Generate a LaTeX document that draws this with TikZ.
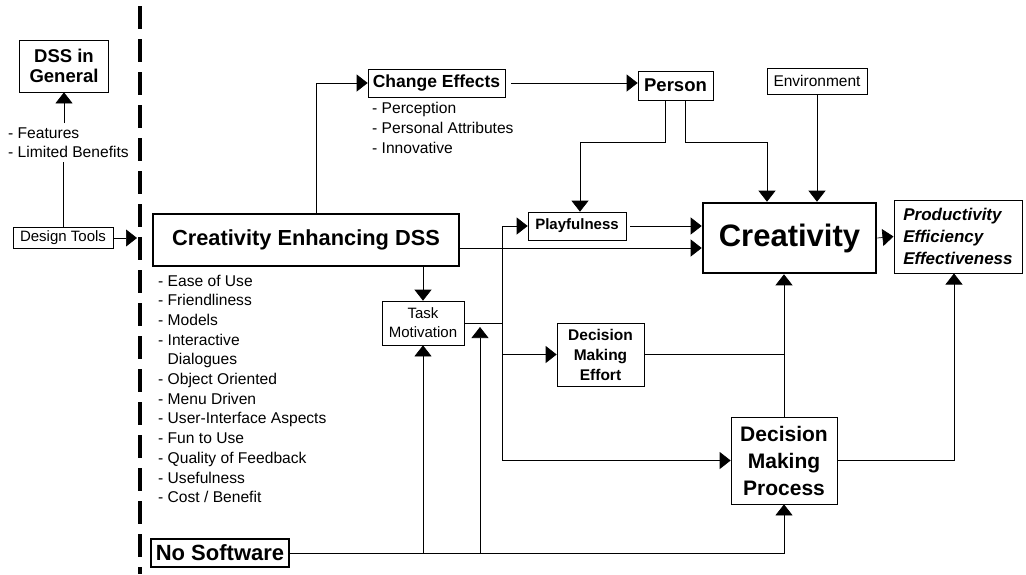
\documentclass[tikz,border=0pt]{standalone}
\usepackage{fontspec}
\setmainfont{Liberation Sans}
\usetikzlibrary{positioning, arrows.meta}

\newcommand{\fsz}[2]{\fontsize{#1}{#2}\selectfont}

\begin{document}
\begin{tikzpicture}[x=1pt,y=-1pt,
  thin box/.style={draw, line width=0.7pt, inner sep=0pt, align=center},
  thick box/.style={draw, line width=2.6pt, inner sep=0pt, align=center},
  link/.style={line width=0.7pt},
  arr/.style={link, -{Triangle[length=11pt,width=17pt]}},
  item/.style={anchor=base west, inner sep=0pt, font=\fsz{15.6}{19}}]
\useasboundingbox (0,0) rectangle (1026,574);

% divider
\draw[line width=4pt, dash pattern=on 23pt off 10pt] (140,6) -- (140,574);

% left of the divider
\node[thin box, minimum width=89pt, minimum height=52pt, font=\bfseries\fsz{18.5}{20}] (dssg) at (64,66) {DSS in\\General};
\foreach \X [count=\Y] in {Features,Limited Benefits}
  \node[item] (G-\Y) at (8,119+19*\Y) {- \X};
\node[thin box, minimum width=100pt, minimum height=21pt, font=\fsz{15}{19}] (dtools) at (63,238) {Design Tools};
\coordinate (dtend) at (137,238);

\draw[arr] ([yshift=4pt]dssg.south |- G-1.north) -- (dssg.south);
\draw[link] (dtools.north) -- ([yshift=-5pt]dtools.north |- G-2.south);
\draw[arr] (dtools.east) -- (dtend);

% main boxes
\node[thick box, minimum width=306pt, minimum height=52pt, font=\bfseries\fsz{21.8}{24}] (cedss) at (306,240) {Creativity Enhancing DSS};
\foreach \X [count=\Y] in {{- Ease of Use},{- Friendliness},{- Models},{- Interactive},{\phantom{- }Dialogues},
  {- Object Oriented},{- Menu Driven},{- User-Interface Aspects},{- Fun to Use},
  {- Quality of Feedback},{- Usefulness},{- Cost / Benefit}}
  \node[item] (E-\Y) at (158,266.3+19.7*\Y) {\X};

\node[thin box, minimum width=137pt, minimum height=28pt, font=\bfseries\fsz{17.5}{20}] (chg) at (436.5,83) {Change Effects};
\foreach \X [count=\Y] in {Perception,Personal Attributes,Innovative}
  \node[item] (C-\Y) at (372,93+20*\Y) {- \X};

\node[thin box, minimum width=75pt, minimum height=29pt, font=\bfseries\fsz{18.5}{20}] (person) at (675.5,85.5) {Person};
\node[thin box, minimum width=100pt, minimum height=26pt, font=\fsz{15.5}{18}] (env) at (817,81) {Environment};
\node[thin box, minimum width=98pt, minimum height=28pt, font=\bfseries\fsz{15}{18}] (play) at (577,226) {Playfulness};
\node[thick box, minimum width=173pt, minimum height=70pt, font=\bfseries\fsz{31}{34}] (creat) at (789.5,238) {Creativity};
\node[thin box, line width=1pt, minimum width=128pt, minimum height=73pt, align=left,
  font=\bfseries\itshape\fsz{17}{22}] (prod) at (958,236.5) {Productivity\\Efficiency\\Effectiveness};
\node[thin box, minimum width=82pt, minimum height=44pt, font=\fsz{15}{19}] (tm) at (423,323) {Task\\Motivation};
\node[thin box, minimum width=87pt, minimum height=63pt, font=\bfseries\fsz{15.5}{20}] (dme) at (600.5,354.5) {Decision\\Making\\Effort};
\node[thin box, minimum width=106pt, minimum height=87pt, font=\bfseries\fsz{21}{27}] (dmp) at (784,460.5) {Decision\\Making\\Process};
\node[thick box, minimum width=138pt, minimum height=28pt, font=\bfseries\fsz{22}{24}] (ns) at (220,553) {No Software};

\coordinate (bus) at (502,323);
\coordinate (tmj) at (480,323);

% connectors
\draw[arr] ([xshift=10pt]cedss.north) |- (chg.west);
\draw[arr, shorten <=6pt] (chg.east) -- (chg.east -| person.west);
\draw[arr] ([xshift=-10pt]person.south) -- ++(0,42) -| ([xshift=3pt]play.north);
\draw[arr] ([xshift=10pt]person.south) -- ++(0,42) -| ([xshift=-22.5pt]creat.north);
\draw[arr] (env.south) -- (env.south |- creat.north);
\draw[arr, shorten <=4pt] (play.east) -- (play.east -| creat.west);
\draw[arr] ([yshift=-8pt]cedss.east) -- ([yshift=-8pt]cedss.east -| creat.west);
\draw[arr] (creat.east) -- (prod.west);
\draw[arr] (cedss.south -| tm.north) -- (tm.north);
\draw[link] (tm.east) -- (bus);
\draw[arr] (bus) |- (play.west);
\draw[arr] (bus) |- (dme.west);
\draw[arr] (bus) |- (dmp.west);
\draw[link] (dme.east) -- (dme.east -| dmp.north);
\draw[arr] (dmp.north) -- (dmp.north |- creat.south);
\draw[arr] (dmp.east) -| ([xshift=-4pt]prod.south);
\draw[arr] (ns.east) -| (dmp.south);
\draw[arr] (ns.east -| tm.south) -- (tm.south);
\draw[arr] (ns.east -| tmj) -- ([yshift=-4pt]tmj);
\end{tikzpicture}
\end{document}
